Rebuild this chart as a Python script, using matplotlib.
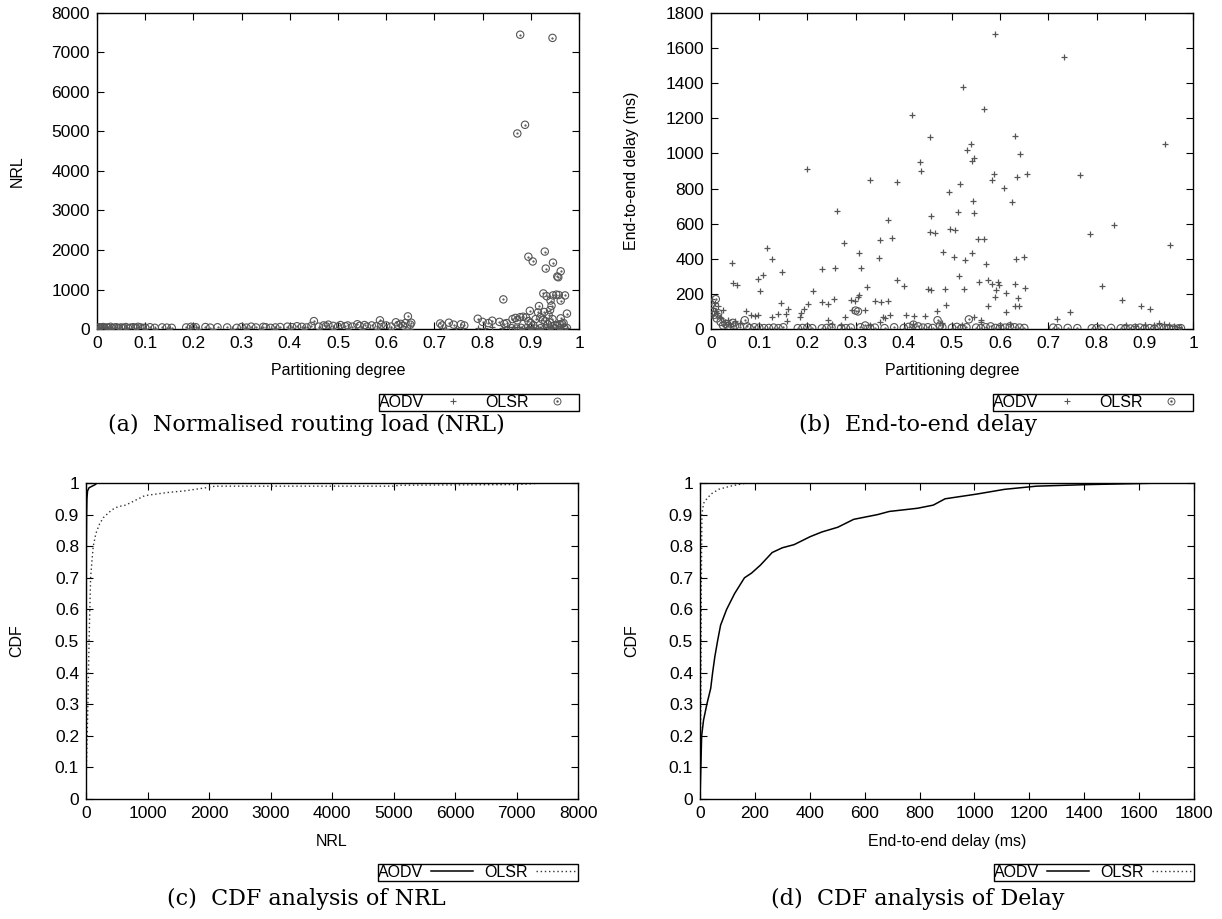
import matplotlib
matplotlib.use("Agg")
import matplotlib.pyplot as plt
from matplotlib.lines import Line2D
from matplotlib.legend_handler import HandlerTuple
from matplotlib.ticker import FuncFormatter, MultipleLocator

plt.rcParams['font.family'] = ['Liberation Sans', 'DejaVu Sans']
plt.rcParams['font.size'] = 11.5

GRAY = '#555555'

# (a) NRL vs partitioning degree
nrl_olsr_x = [0.878, 0.945, 0.872, 0.888, 0.929, 0.895, 0.904, 0.946, 0.931, 0.962, 0.955, 0.957,
              0.843, 0.926, 0.933, 0.941, 0.946, 0.953, 0.958, 0.962, 0.971, 0.917, 0.943, 0.898,
              0.915, 0.928, 0.975, 0.940, 0.937, 0.945, 0.962, 0.968,
              0.000, 0.003, 0.005, 0.008, 0.010, 0.013, 0.016, 0.020, 0.024, 0.028, 0.032, 0.036,
              0.040, 0.045, 0.050, 0.055, 0.060, 0.065, 0.070, 0.075, 0.080, 0.085, 0.090, 0.095,
              0.100, 0.110, 0.120, 0.135, 0.145, 0.155, 0.185, 0.195, 0.200, 0.205, 0.225, 0.235,
              0.250, 0.270, 0.290, 0.300, 0.310, 0.320, 0.330, 0.345, 0.350, 0.360, 0.370, 0.380,
              0.395, 0.405, 0.415, 0.425, 0.435, 0.445, 0.450, 0.460, 0.470, 0.475, 0.480, 0.490,
              0.500, 0.505, 0.515, 0.520, 0.530, 0.540, 0.545, 0.555, 0.560, 0.570, 0.580, 0.587,
              0.590, 0.600, 0.610, 0.620, 0.625, 0.630, 0.635, 0.640, 0.645, 0.650, 0.652, 0.712,
              0.716, 0.730, 0.740, 0.755, 0.762, 0.790, 0.800, 0.812, 0.820, 0.835, 0.845, 0.850,
              0.862, 0.868, 0.872, 0.878, 0.884, 0.890, 0.895, 0.900, 0.905, 0.910, 0.920, 0.925,
              0.930, 0.935, 0.940, 0.950, 0.955, 0.960, 0.965, 0.860, 0.870, 0.880, 0.890, 0.900,
              0.910, 0.920, 0.930, 0.940, 0.950, 0.960, 0.970, 0.975]
nrl_olsr_y = [7450, 7370, 4950, 5170, 1960, 1830, 1710, 1680, 1530, 1460, 1330, 1310,
              750, 900, 830, 720, 850, 870, 860, 720, 850, 580, 590, 460,
              420, 430, 390, 480, 350, 250, 270, 150,
              15, 30, 45, 20, 35, 50, 25, 40, 30, 55, 20, 35,
              45, 25, 40, 30, 50, 20, 35, 45, 30, 55, 40, 25,
              35, 45, 30, 40, 35, 30, 40, 55, 30, 45, 50, 35,
              45, 40, 30, 50, 35, 60, 40, 55, 45, 30, 40, 50,
              60, 45, 70, 55, 40, 80, 200, 60, 90, 70, 110, 80,
              60, 100, 70, 90, 60, 120, 80, 100, 60, 90, 70, 220,
              110, 90, 60, 170, 100, 130, 80, 150, 320, 110, 160, 140,
              90, 160, 110, 120, 90, 260, 180, 150, 210, 180, 130, 150,
              250, 280, 220, 300, 310, 290, 200, 150, 100, 250, 300, 230,
              200, 120, 160, 100, 80, 120, 130, 20, 10, 30, 15, 25,
              10, 20, 15, 10, 20, 15, 10, 25]
nrl_aodv_x = [0.000, 0.005, 0.010, 0.020, 0.030, 0.045, 0.060, 0.080, 0.100, 0.120, 0.150, 0.190,
              0.210, 0.240, 0.280, 0.310, 0.340, 0.370, 0.400, 0.430, 0.460, 0.490, 0.520, 0.550,
              0.580, 0.610, 0.640, 0.650, 0.715, 0.725, 0.745, 0.760, 0.790, 0.805, 0.820, 0.840,
              0.855, 0.865, 0.875, 0.885, 0.895, 0.905, 0.915, 0.925, 0.935, 0.945, 0.955, 0.965,
              0.975, 0.880, 0.900, 0.920, 0.940, 0.960]
nrl_aodv_y = [10, 5, 15, 8, 12, 6, 10, 4, 9, 7, 5, 6,
              8, 5, 7, 6, 9, 5, 8, 10, 6, 12, 8, 10,
              7, 9, 12, 6, 20, 10, 25, 15, 30, 20, 40, 25,
              60, 40, 50, 30, 45, 20, 35, 25, 40, 30, 20, 35,
              15, 5, 8, 4, 6, 10]

# (b) end-to-end delay vs partitioning degree
dly_aodv_x = [0.590, 0.732, 0.523, 0.567, 0.418, 0.631, 0.455, 0.540, 0.531, 0.942, 0.642, 0.546,
              0.541, 0.434, 0.199, 0.436, 0.587, 0.655, 0.765, 0.635, 0.329, 0.582, 0.386, 0.516,
              0.608, 0.494, 0.624, 0.544, 0.261, 0.513, 0.545, 0.457, 0.368, 0.837, 0.495, 0.507,
              0.454, 0.465, 0.787, 0.376, 0.554, 0.566, 0.351, 0.276, 0.953, 0.116, 0.482, 0.542,
              0.307, 0.505, 0.650, 0.633, 0.349, 0.127, 0.527, 0.043, 0.570, 0.311, 0.257, 0.231,
              0.147, 0.514, 0.107, 0.098, 0.386, 0.574, 0.596, 0.555, 0.045, 0.054, 0.584, 0.630,
              0.598, 0.400, 0.811, 0.323, 0.652, 0.451, 0.524, 0.485, 0.456, 0.591, 0.212, 0.101,
              0.589, 0.611, 0.308, 0.306, 0.637, 0.256, 0.853, 0.341, 0.290, 0.299, 0.231, 0.367,
              0.352, 0.146, 0.243, 0.201, 0.575, 0.487, 0.892, 0.630, 0.639, 0.910, 0.159, 0.293,
              0.319, 0.156, 0.468, 0.072, 0.744, 0.611, 0.187, 0.192, 0.098, 0.138, 0.404, 0.421,
              0.277, 0.371, 0.357, 0.126, 0.092, 0.084, 0.185, 0.242, 0.445, 0.717, 0.157, 0.561,
              0.546, 0.002, 0.005, 0.008, 0.012, 0.015, 0.020, 0.025, 0.030, 0.035, 0.040, 0.050,
              0.060, 0.003, 0.010, 0.018, 0.350, 0.360, 0.420, 0.480, 0.520, 0.560, 0.600, 0.620,
              0.880, 0.900, 0.920, 0.940, 0.960, 0.970, 0.930, 0.950, 0.860, 0.270, 0.330, 0.250]
dly_aodv_y = [1680, 1550, 1379, 1253, 1221, 1100, 1092, 1054, 1022, 1056, 999, 972,
              957, 951, 913, 900, 885, 881, 875, 868, 849, 849, 839, 824,
              803, 782, 722, 731, 670, 665, 661, 642, 619, 591, 570, 562,
              551, 547, 541, 520, 515, 515, 509, 490, 479, 461, 439, 435,
              433, 412, 410, 399, 403, 397, 391, 376, 370, 349, 349, 342,
              325, 300, 308, 285, 281, 281, 266, 268, 260, 253, 258, 258,
              253, 245, 243, 239, 235, 226, 226, 226, 220, 220, 215, 218,
              182, 205, 192, 180, 177, 171, 167, 161, 163, 158, 156, 158,
              152, 146, 140, 142, 133, 135, 133, 129, 131, 114, 114, 108,
              106, 87, 101, 101, 95, 95, 91, 114, 80, 87, 80, 74,
              70, 80, 70, 70, 74, 80, 66, 49, 72, 57, 44, 42,
              70, 170, 120, 150, 90, 130, 60, 110, 40, 50, 30, 45,
              35, 80, 100, 70, 40, 60, 30, 35, 25, 50, 20, 30,
              15, 25, 20, 30, 15, 10, 35, 25, 20, 25, 20, 30]
dly_olsr_x = [0.000, 0.003, 0.006, 0.010, 0.012, 0.015, 0.020, 0.025, 0.030, 0.035, 0.040, 0.045,
              0.050, 0.060, 0.070, 0.075, 0.080, 0.090, 0.100, 0.110, 0.120, 0.130, 0.140, 0.150,
              0.180, 0.190, 0.200, 0.210, 0.230, 0.240, 0.250, 0.270, 0.280, 0.290, 0.300, 0.305,
              0.310, 0.320, 0.330, 0.340, 0.360, 0.380, 0.400, 0.410, 0.420, 0.430, 0.440, 0.450,
              0.460, 0.470, 0.475, 0.480, 0.500, 0.510, 0.520, 0.530, 0.535, 0.550, 0.560, 0.570,
              0.580, 0.590, 0.600, 0.610, 0.620, 0.630, 0.640, 0.650, 0.710, 0.720, 0.740, 0.760,
              0.790, 0.800, 0.810, 0.830, 0.850, 0.860, 0.870, 0.880, 0.890, 0.900, 0.910, 0.920,
              0.930, 0.940, 0.950, 0.960, 0.970, 0.975]
dly_olsr_y = [140, 100, 80, 170, 60, 90, 40, 20, 30, 15, 10, 35,
              20, 10, 50, 15, 5, 10, 8, 5, 6, 8, 5, 10,
              5, 6, 8, 5, 4, 6, 10, 6, 5, 8, 105, 100,
              10, 20, 6, 8, 5, 10, 6, 12, 25, 15, 8, 10,
              6, 50, 20, 10, 8, 12, 6, 10, 55, 8, 5, 10,
              15, 6, 10, 8, 15, 10, 8, 6, 8, 5, 6, 5,
              4, 5, 3, 6, 4, 5, 3, 6, 8, 4, 5, 3,
              6, 4, 5, 3, 4, 5]

# (c) CDF of NRL
cdf_nrl_aodv_x = [0, 3, 6, 10, 15, 25, 50, 100, 150, 180, 7500]
cdf_nrl_aodv_y = [0.1, 0.5, 0.8, 0.9, 0.95, 0.975, 0.985, 0.99, 0.995, 1.0, 1.0]
cdf_nrl_olsr_x = [0, 6, 19, 31, 40, 50, 62, 75, 95, 118, 160, 220, 280, 335, 420, 520, 645,
                  800, 955, 1330, 1600, 1950, 2100, 5000, 5100, 7000, 7450]
cdf_nrl_olsr_y = [0.0, 0.1, 0.2, 0.3, 0.4, 0.5, 0.6, 0.7, 0.75, 0.8, 0.84, 0.87, 0.89, 0.9, 0.915, 0.925, 0.93,
                  0.945, 0.96, 0.97, 0.975, 0.985, 0.99, 0.99, 0.993, 0.995, 1.0]

# (d) CDF of delay
cdf_dly_aodv_x = [0, 3, 6, 13, 25, 39, 46, 54, 64, 75, 97, 126, 162, 188, 220, 263, 300, 343,
                  401, 444, 502, 560, 647, 690, 792, 850, 893, 1009, 1110, 1226, 1414, 1689]
cdf_dly_aodv_y = [0.0, 0.1, 0.2, 0.25, 0.3, 0.35, 0.4, 0.45, 0.5, 0.55, 0.6, 0.65, 0.7, 0.715, 0.74, 0.78, 0.795, 0.805,
                  0.83, 0.845, 0.86, 0.885, 0.9, 0.91, 0.92, 0.93, 0.95, 0.965, 0.98, 0.99, 0.995, 1.0]
cdf_dly_olsr_x = [0, 1, 2, 3, 4, 5, 6, 7, 10, 15, 25, 40, 68, 111, 140, 170]
cdf_dly_olsr_y = [0.0, 0.1, 0.2, 0.3, 0.5, 0.7, 0.8, 0.9, 0.92, 0.94, 0.95, 0.965, 0.98, 0.99, 0.995, 1.0]

fig = plt.figure(figsize=(12.22, 9.19), dpi=100)
W, H = 1222.0, 919.0


def make_axes(l, t, r, b):
    return fig.add_axes([l / W, 1 - b / H, (r - l) / W, (b - t) / H])


ax_a = make_axes(97, 13, 579, 329)
ax_b = make_axes(711, 13, 1193, 329)
ax_c = make_axes(86, 483, 578, 799)
ax_d = make_axes(700, 483, 1194, 799)

fmt = FuncFormatter(lambda v, p: '%g' % round(v, 6))


def style(ax):
    ax.tick_params(direction='in', top=True, right=True, length=5, width=0.8, labelsize=12.5, pad=5)
    for s in ax.spines.values():
        s.set_linewidth(1.0)
    ax.xaxis.set_major_formatter(fmt)
    ax.yaxis.set_major_formatter(fmt)


def scatter_pair(ax, ax_x, ax_y, ol_x, ol_y):
    ax.scatter(ax_x, ax_y, marker='+', s=24, linewidths=0.9, color=GRAY, zorder=3)
    ax.scatter(ol_x, ol_y, marker='o', s=28, facecolors='none', edgecolors=GRAY, linewidths=0.8, zorder=3)
    ax.scatter(ol_x, ol_y, marker='.', s=1.5, color=GRAY, zorder=3)


def add_legend(ax, handles):
    leg = ax.legend(handles, ['AODV', 'OLSR'], ncol=2, markerfirst=False,
                    loc='upper right', bbox_to_anchor=(1.0, -0.206), borderaxespad=0,
                    fancybox=False, edgecolor='black', framealpha=1, fontsize=11.5,
                    handlelength=2.6, handletextpad=0.5, columnspacing=0.7, borderpad=0.05,
                    handler_map={tuple: HandlerTuple(ndivide=1)})
    leg.get_frame().set_linewidth(1.0)


plus_h = Line2D([], [], marker='+', ls='none', color=GRAY, markersize=5, mew=0.8)
circ_h = (Line2D([], [], marker='o', ls='none', mfc='none', mec=GRAY, markersize=5, mew=0.7),
          Line2D([], [], marker='.', ls='none', color=GRAY, markersize=1.5))

# (a)
scatter_pair(ax_a, nrl_aodv_x, nrl_aodv_y, nrl_olsr_x, nrl_olsr_y)
ax_a.set_xlim(0, 1)
ax_a.set_ylim(0, 8000)
ax_a.xaxis.set_major_locator(MultipleLocator(0.1))
ax_a.yaxis.set_major_locator(MultipleLocator(1000))
style(ax_a)
ax_a.set_xlabel('Partitioning degree', va='center')
ax_a.xaxis.set_label_coords(0.5, -0.13)
ax_a.set_ylabel('NRL', va='center')
ax_a.yaxis.set_label_coords(-0.166, 0.5)
add_legend(ax_a, [plus_h, circ_h])

# (b)
scatter_pair(ax_b, dly_aodv_x, dly_aodv_y, dly_olsr_x, dly_olsr_y)
ax_b.set_xlim(0, 1)
ax_b.set_ylim(0, 1800)
ax_b.xaxis.set_major_locator(MultipleLocator(0.1))
ax_b.yaxis.set_major_locator(MultipleLocator(200))
style(ax_b)
ax_b.set_xlabel('Partitioning degree', va='center')
ax_b.xaxis.set_label_coords(0.5, -0.13)
ax_b.set_ylabel('End-to-end delay (ms)', va='center')
ax_b.yaxis.set_label_coords(-0.164, 0.5)
add_legend(ax_b, [plus_h, circ_h])

# (c)
ax_c.plot(cdf_nrl_aodv_x, cdf_nrl_aodv_y, color='black', lw=1.1)
ax_c.plot(cdf_nrl_olsr_x, cdf_nrl_olsr_y, color='#333333', lw=1.0, ls=(0, (1, 2)))
ax_c.set_xlim(0, 8000)
ax_c.set_ylim(0, 1)
ax_c.xaxis.set_major_locator(MultipleLocator(1000))
ax_c.yaxis.set_major_locator(MultipleLocator(0.1))
style(ax_c)
ax_c.set_xlabel('NRL', va='center')
ax_c.xaxis.set_label_coords(0.5, -0.136)
ax_c.set_ylabel('CDF', va='center')
ax_c.yaxis.set_label_coords(-0.14, 0.5)
add_legend(ax_c, [Line2D([], [], color='black', lw=1.1),
                  Line2D([], [], color='#333333', lw=1.0, ls=(0, (1, 2)))])

# (d)
ax_d.plot(cdf_dly_aodv_x, cdf_dly_aodv_y, color='black', lw=1.1)
ax_d.plot(cdf_dly_olsr_x, cdf_dly_olsr_y, color='#333333', lw=1.0, ls=(0, (1, 2)))
ax_d.set_xlim(0, 1800)
ax_d.set_ylim(0, 1)
ax_d.xaxis.set_major_locator(MultipleLocator(200))
ax_d.yaxis.set_major_locator(MultipleLocator(0.1))
style(ax_d)
ax_d.set_xlabel('End-to-end delay (ms)', va='center')
ax_d.xaxis.set_label_coords(0.5, -0.136)
ax_d.set_ylabel('CDF', va='center')
ax_d.yaxis.set_label_coords(-0.138, 0.5)
add_legend(ax_d, [Line2D([], [], color='black', lw=1.1),
                  Line2D([], [], color='#333333', lw=1.0, ls=(0, (1, 2)))])

# sub-captions
cap = dict(ha='center', va='center', fontsize=16, family='DejaVu Serif')
fig.text(306 / W, 1 - 425 / H, '(a)  Normalised routing load (NRL)', **cap)
fig.text(918 / W, 1 - 425 / H, '(b)  End-to-end delay', **cap)
fig.text(306 / W, 1 - 899 / H, '(c)  CDF analysis of NRL', **cap)
fig.text(918 / W, 1 - 899 / H, '(d)  CDF analysis of Delay', **cap)

fig.savefig('out.png', dpi=100)
